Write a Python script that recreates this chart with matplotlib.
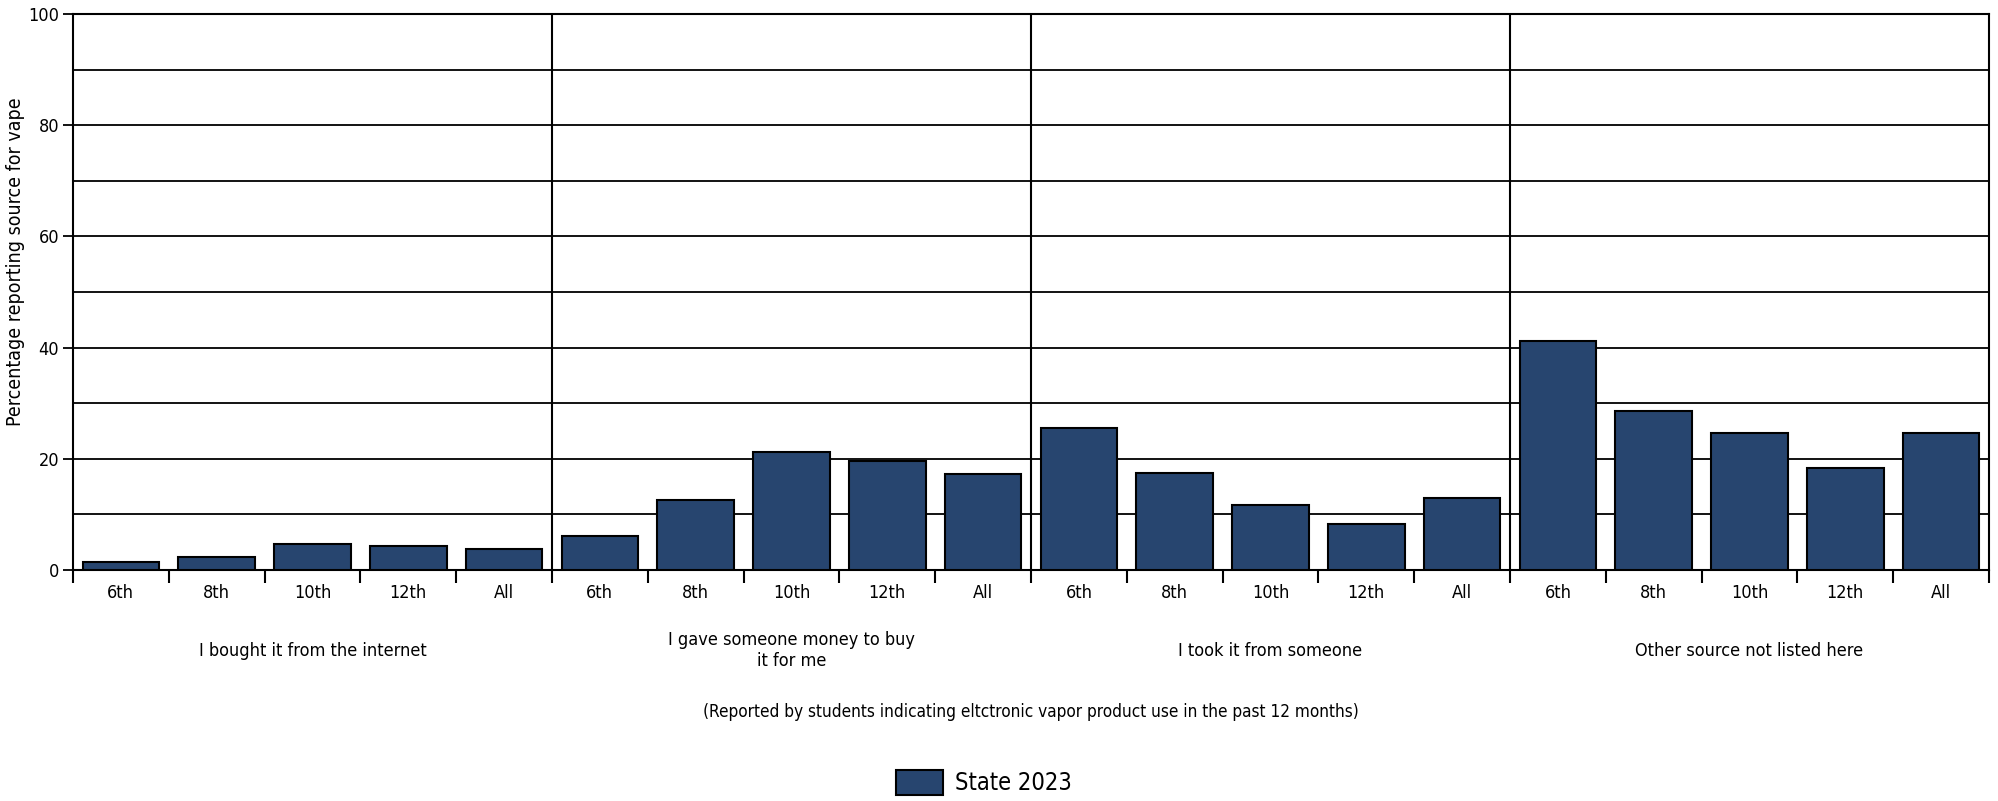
import matplotlib
matplotlib.use("Agg")
import matplotlib.pyplot as plt
import numpy as np

plt.rcParams['font.family'] = ['DejaVu Sans']
plt.rcParams['font.stretch'] = 'condensed'

# data
groups = ['I bought it from the internet',
          'I gave someone money to buy\nit for me',
          'I took it from someone',
          'Other source not listed here']
grades = ['6th', '8th', '10th', '12th', 'All']
bought_internet = [1.5, 2.4, 4.6, 4.3, 3.7]
gave_money = [6.1, 12.6, 21.2, 19.6, 17.2]
took_it = [25.5, 17.5, 11.7, 8.3, 12.9]
other_source = [41.2, 28.6, 24.6, 18.4, 24.6]
series_name = 'State 2023'
bar_color = '#27456F'

values = bought_internet + gave_money + took_it + other_source
labels = grades * len(groups)
x = np.arange(len(values))

fig = plt.figure(figsize=(19.99, 8.01), dpi=100)
ax = fig.add_axes([0.0365, 0.2884, 0.9585, 0.6941])

ax.set_axisbelow(True)
ax.bar(x, values, width=0.8, color=bar_color, edgecolor='black', linewidth=1.5,
       label=series_name, zorder=3)

ax.set_xlim(-0.5, len(values) - 0.5)
ax.set_ylim(0, 100)

# horizontal grid every 10, labels every 20
ax.set_yticks(np.arange(0, 101, 20))
ax.set_yticks(np.arange(10, 100, 20), minor=True)
ax.yaxis.grid(True, which='both', color='black', linewidth=1.3, zorder=0)
ax.tick_params(axis='y', which='major', length=7, width=1.3, labelsize=13, pad=3)
ax.tick_params(axis='y', which='minor', length=0)

# x ticks: labels centred on bars, tick marks at bar boundaries
ax.set_xticks(x)
ax.set_xticklabels(labels)
ax.set_xticks(np.arange(-0.5, len(values), 1), minor=True)
ax.tick_params(axis='x', which='major', length=0, labelsize=13, pad=10)
ax.tick_params(axis='x', which='minor', length=9, width=1.5, direction='out')

# group separators
for k in range(1, len(groups)):
    ax.axvline(k * len(grades) - 0.5, color='black', linewidth=1.5, zorder=1)

for s in ax.spines.values():
    s.set_color('black')
    s.set_linewidth(1.5)

# group labels below tick labels
for k, g in enumerate(groups):
    ax.text(k * len(grades) + 2, -14.5, g, ha='center', va='center',
            multialignment='center', fontsize=13, clip_on=False)

ax.set_ylabel('Percentage reporting source for vape', fontsize=14, labelpad=6)
ax.yaxis.set_label_coords(-0.025, 0.555)
ax.text(0.5, -0.255, '(Reported by students indicating eltctronic vapor product use in the past 12 months)',
        ha='center', va='center', fontsize=12.3, transform=ax.transAxes)

fig.legend(loc='center', bbox_to_anchor=(0.492, 0.023), frameon=False,
           fontsize=17, handlelength=2.0, handleheight=1.3, handletextpad=0.5)

fig.savefig('out.png', dpi=100)
